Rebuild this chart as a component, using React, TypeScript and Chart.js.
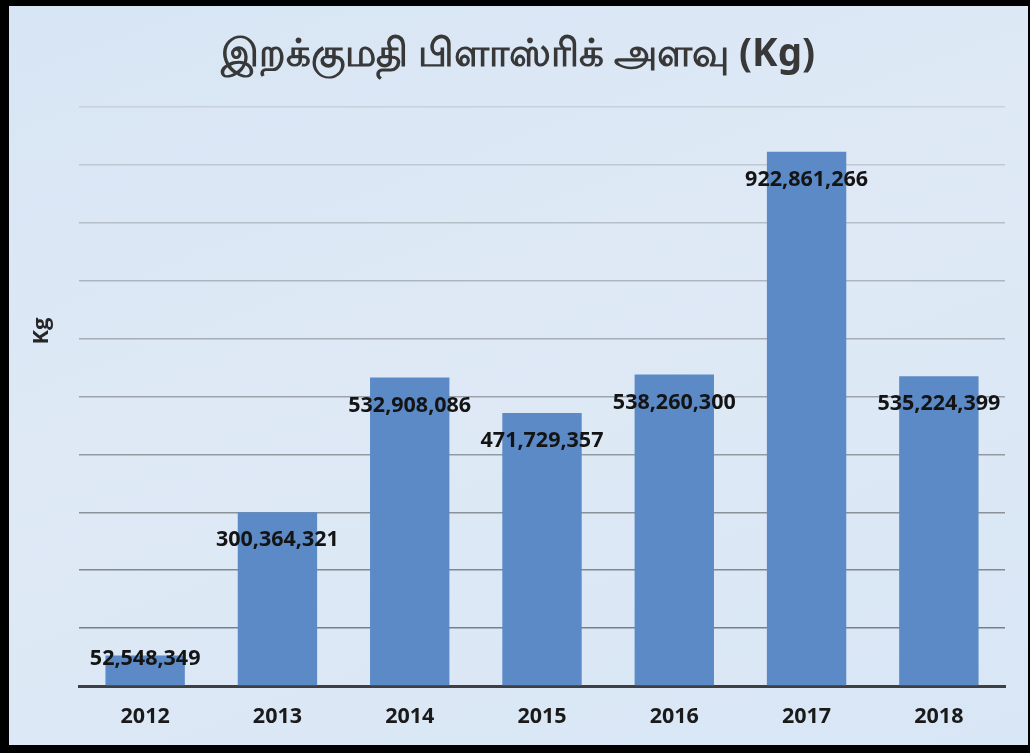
import React, { useEffect, useRef } from "react";
import { Chart, registerables } from "chart.js";

Chart.register(...registerables);

const titleText = "இறக்குமதி பிளாஸ்ரிக் அளவு (Kg)";
const yAxisTitle = "Kg";
const years = ["2012", "2013", "2014", "2015", "2016", "2017", "2018"];
const importKg = [52548349, 300364321, 532908086, 471729357, 538260300, 922861266, 535224399];
const yMax = 1000000000;
const yStep = 100000000;

const barColor = "#5b8ac6";
const labelFont = "'Open Sans', 'DejaVu Sans', sans-serif";

const valueLabels = {
  id: "valueLabels",
  afterDatasetsDraw(chart: any) {
    const { ctx } = chart;
    const meta = chart.getDatasetMeta(0);
    ctx.save();
    ctx.font = `bold 21.5px ${labelFont}`;
    ctx.fillStyle = "#141414";
    ctx.textAlign = "center";
    ctx.textBaseline = "middle";
    meta.data.forEach((bar: any, i: number) => {
      const h = bar.base - bar.y;
      const y = h > 56 ? bar.y + 28 : bar.y + 3;
      ctx.fillText(importKg[i].toLocaleString("en-US"), bar.x, y);
    });
    ctx.restore();
  },
};

const yTitlePlugin = {
  id: "yTitlePlugin",
  afterDraw(chart: any) {
    const { ctx } = chart;
    ctx.save();
    ctx.translate(42, 331);
    ctx.rotate(-Math.PI / 2);
    ctx.font = `bold 22px ${labelFont}`;
    ctx.fillStyle = "#262626";
    ctx.textAlign = "center";
    ctx.textBaseline = "middle";
    ctx.fillText(yAxisTitle, 0, 0);
    ctx.restore();
  },
};

function gridColor(v: number) {
  const t = v / yMax; // 0 bottom, 1 top
  const dark = [112, 118, 126];
  const light = [200, 208, 217];
  const c = dark.map((d, k) => Math.round(d + (light[k] - d) * t));
  return `rgb(${c[0]},${c[1]},${c[2]})`;
}

export default function App() {
  const ref = useRef<HTMLCanvasElement | null>(null);

  useEffect(() => {
    if (!ref.current) return;
    const chart = new Chart(ref.current, {
      type: "bar",
      data: {
        labels: years,
        datasets: [
          {
            data: importKg,
            backgroundColor: barColor,
            borderWidth: 0,
            barPercentage: 0.6,
            categoryPercentage: 1,
          },
        ],
      },
      options: {
        animation: false,
        responsive: false,
        devicePixelRatio: 1,
        layout: { padding: { left: 31, right: 25, top: 0, bottom: 0 } },
        plugins: {
          legend: { display: false },
          tooltip: { enabled: false },
          title: {
            display: true,
            text: titleText,
            color: "#383838",
            font: { family: "'Noto Sans', 'DejaVu Sans', sans-serif", size: 38.5, weight: "bold" },
            padding: { top: 32, bottom: 29 },
          },
        },
        scales: {
          x: {
            z: 1,
            grid: { display: true, color: "rgba(0,0,0,0)", drawTicks: false },
            border: { display: true, color: "#3d3f42", width: 3 },
            ticks: {
              color: "#1a1a1a",
              padding: 18,
              font: { family: labelFont, size: 21.5, weight: "bold" },
            },
            afterFit: (s: any) => {
              s.height = 67;
            },
          },
          y: {
            min: 0,
            max: yMax,
            grid: {
              color: (c: any) => gridColor(c.tick ? c.tick.value : 0),
              lineWidth: 1.5,
              drawTicks: false,
            },
            border: { display: false },
            ticks: { display: false, stepSize: yStep },
            afterFit: (s: any) => {
              s.width = 48;
            },
          },
        },
      },
      plugins: [valueLabels, yTitlePlugin],
    });
    return () => chart.destroy();
  }, []);

  return (
    <div
      style={{
        position: "absolute",
        left: 0,
        top: 0,
        width: 1030,
        height: 753,
        background: "linear-gradient(160deg, #d7e5f4 0%, #dfe9f6 45%, #d8e6f5 100%)",
        overflow: "hidden",
      }}
    >
      <canvas ref={ref} width={1030} height={753} style={{ position: "absolute", left: 0, top: 0 }} />
      <div
        style={{
          position: "absolute",
          left: 0,
          top: 0,
          width: 1030,
          height: 753,
          boxSizing: "border-box",
          borderStyle: "solid",
          borderColor: "#000",
          borderWidth: "6px 2px 8px 9px",
          pointerEvents: "none",
        }}
      />
    </div>
  );
}
